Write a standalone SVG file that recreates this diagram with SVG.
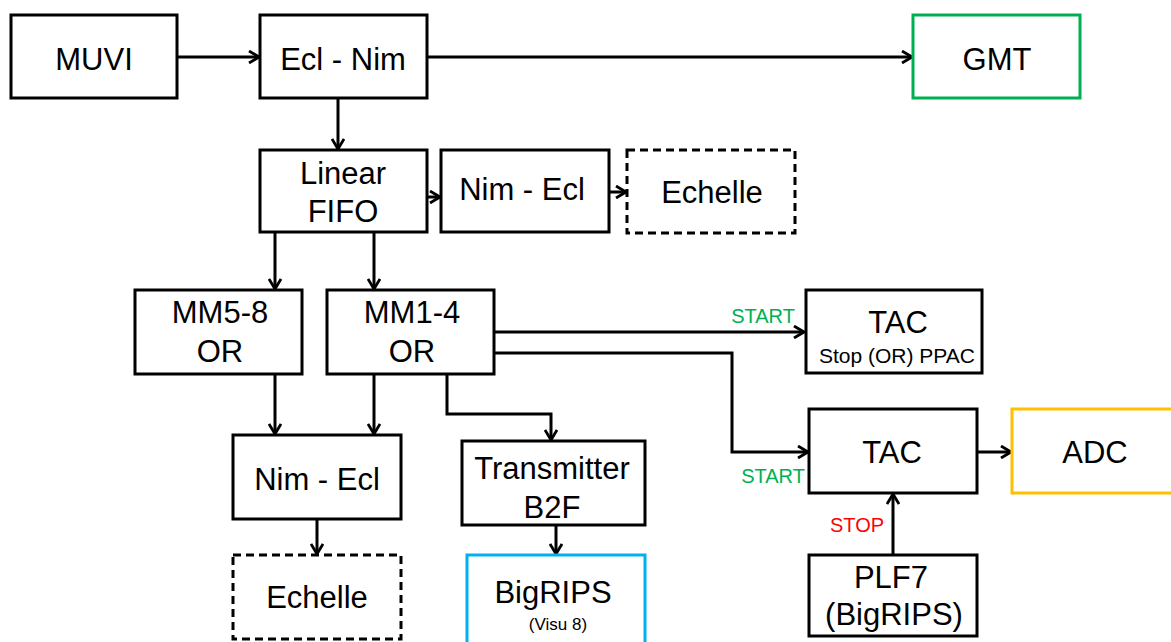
<svg xmlns="http://www.w3.org/2000/svg" width="1171" height="642" viewBox="0 0 1171 642">
<defs>
<style>
.box{fill:#fff;stroke:#000;stroke-width:3}
.dash{fill:#fff;stroke:#000;stroke-width:3;stroke-dasharray:8 5}
.t{font-family:"Liberation Sans",Arial,sans-serif;font-size:31px;fill:#000;text-anchor:middle}
.s{font-family:"Liberation Sans",Arial,sans-serif;font-size:20px;text-anchor:middle}
.c{fill:none;stroke:#000;stroke-width:3}
</style>
<marker id="arr" markerUnits="userSpaceOnUse" viewBox="0 0 14 14" markerWidth="14" markerHeight="14" refX="12" refY="7" orient="auto">
<path d="M2,1 L12,7 L2,13" fill="none" stroke="#000" stroke-width="2.8"/>
</marker>
</defs>
<rect width="1171" height="642" fill="#fff"/>
<g id="connectors">
<path class="c" d="M177,57 H259" marker-end="url(#arr)"/>
<path class="c" d="M427,57 H912" marker-end="url(#arr)"/>
<path class="c" d="M338,98 V149" marker-end="url(#arr)"/>
<path class="c" d="M427,197 H440" marker-end="url(#arr)"/>
<path class="c" d="M609,192 H626" marker-end="url(#arr)"/>
<path class="c" d="M275,232 V289" marker-end="url(#arr)"/>
<path class="c" d="M374,232 V289" marker-end="url(#arr)"/>
<path class="c" d="M275,374 V434" marker-end="url(#arr)"/>
<path class="c" d="M374,374 V434" marker-end="url(#arr)"/>
<path class="c" d="M447,374 V414 H551 V440" marker-end="url(#arr)"/>
<path class="c" d="M317,519 V554" marker-end="url(#arr)"/>
<path class="c" d="M556,525 V554" marker-end="url(#arr)"/>
<path class="c" d="M494,332 H804" marker-end="url(#arr)"/>
<path class="c" d="M494,353 H732 V452 H808" marker-end="url(#arr)"/>
<path class="c" d="M977,452 H1011" marker-end="url(#arr)"/>
<path class="c" d="M893,555 V494" marker-end="url(#arr)"/>
<text class="s" x="763" y="323" fill="#00b050">START</text>
<text class="s" x="773" y="483" fill="#00b050">START</text>
<text class="s" x="857" y="532" fill="#ff0000">STOP</text>
</g>
<g id="muvi"><rect class="box" x="11" y="15" width="166" height="83"/><text class="t" x="94" y="70">MUVI</text></g>
<g id="ecl-nim"><rect class="box" x="260" y="15" width="167" height="83"/><text class="t" x="343" y="70">Ecl - Nim</text></g>
<g id="gmt"><rect class="box" x="913" y="15" width="167" height="83" style="stroke:#00b050"/><text class="t" x="997" y="70">GMT</text></g>
<g id="linear-fifo"><rect class="box" x="260" y="150" width="167" height="82"/><text class="t" x="343" y="184">Linear</text><text class="t" x="343" y="222">FIFO</text></g>
<g id="nim-ecl-top"><rect class="box" x="441" y="150" width="168" height="82"/><text class="t" x="522" y="200">Nim - Ecl</text></g>
<g id="echelle-top"><rect class="dash" x="627" y="150" width="168" height="83"/><text class="t" x="712" y="203">Echelle</text></g>
<g id="mm5-8"><rect class="box" x="135" y="290" width="167" height="84"/><text class="t" x="220" y="323">MM5-8</text><text class="t" x="220" y="362">OR</text></g>
<g id="mm1-4"><rect class="box" x="327" y="290" width="167" height="84"/><text class="t" x="412" y="323">MM1-4</text><text class="t" x="412" y="362">OR</text></g>
<g id="tac-top"><rect class="box" x="806" y="290" width="176" height="83"/><text class="t" x="898" y="333">TAC</text><text class="s" x="897" y="363" fill="#000" style="font-size:21px">Stop (OR) PPAC</text></g>
<g id="nim-ecl-bottom"><rect class="box" x="233" y="435" width="168" height="84"/><text class="t" x="317" y="490">Nim - Ecl</text></g>
<g id="transmitter"><rect class="box" x="462" y="441" width="183" height="84"/><text class="t" x="552" y="479">Transmitter</text><text class="t" x="552" y="518">B2F</text></g>
<g id="tac-bottom"><rect class="box" x="809" y="409" width="168" height="84"/><text class="t" x="892" y="463">TAC</text></g>
<g id="adc"><rect class="box" x="1012" y="409" width="165" height="84" style="stroke:#ffc000"/><text class="t" x="1095" y="463">ADC</text></g>
<g id="echelle-bottom"><rect class="dash" x="233" y="555" width="168" height="84"/><text class="t" x="317" y="608">Echelle</text></g>
<g id="bigrips"><rect class="box" x="467" y="555" width="178" height="95" style="stroke:#00b0f0"/><text class="t" x="553" y="603">BigRIPS</text><text class="s" x="558" y="630" style="font-size:17px" fill="#000">(Visu 8)</text></g>
<g id="plf7"><rect class="box" x="809" y="555" width="168" height="81"/><text class="t" x="891" y="588">PLF7</text><text class="t" x="894" y="625">(BigRIPS)</text></g>
</svg>
